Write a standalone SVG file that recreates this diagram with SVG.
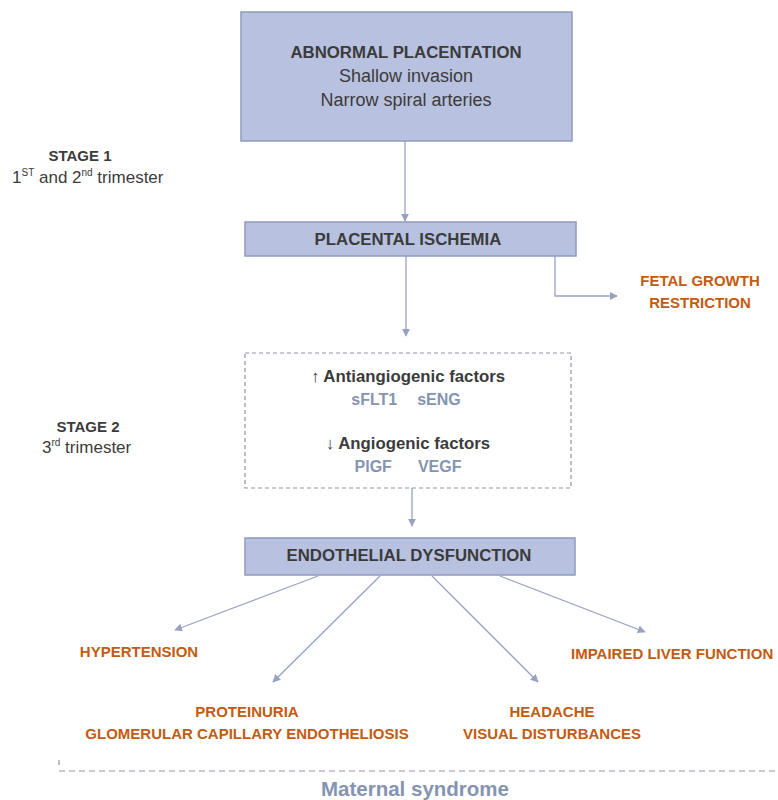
<svg xmlns="http://www.w3.org/2000/svg" width="778" height="800" viewBox="0 0 778 800">
<defs>
<style>
text{font-family:"Liberation Sans",Arial,sans-serif;}
.box{fill:#b8c1df;stroke:#8f9bbf;stroke-width:1.5;}
.dbox{fill:#fff;stroke:#8f95a8;stroke-width:1.2;stroke-dasharray:4 3;}
.t{fill:#3b3b3b;font-weight:bold;font-size:16.8px;text-anchor:middle;}
.n{fill:#3b3b3b;font-size:18px;text-anchor:middle;}
.o{fill:#c55a11;font-weight:bold;font-size:15px;text-anchor:middle;}
.g{fill:#8494b2;font-weight:bold;font-size:16px;text-anchor:middle;}
.s{fill:#3b3b3b;font-weight:bold;font-size:15px;text-anchor:middle;}
.sn{fill:#3b3b3b;font-size:17px;}
.c{fill:none;stroke:#99a1c1;stroke-width:1.3;}
</style>
<marker id="ar" viewBox="0 0 10 10" refX="9" refY="5" markerWidth="8" markerHeight="8" markerUnits="userSpaceOnUse" orient="auto">
<path d="M0,0 L10,5 L0,10 z" fill="#99a1c1"/>
</marker>
</defs>
<rect width="778" height="800" fill="#fff"/>
<g id="stage1">
<text class="s" x="80" y="161">STAGE 1</text>
<text class="sn" x="12" y="183">1<tspan font-size="10" dy="-7">ST</tspan><tspan dy="7"> and 2</tspan><tspan font-size="10" dy="-7">nd</tspan><tspan dy="7"> trimester</tspan></text>
</g>
<g id="stage2">
<text class="s" x="88" y="432">STAGE 2</text>
<text class="sn" x="42" y="453">3<tspan font-size="10" dy="-7">rd</tspan><tspan dy="7"> trimester</tspan></text>
</g>
<g id="connectors">
<path class="c" d="M405,141 V221" marker-end="url(#ar)"/>
<path class="c" d="M406,256 V336" marker-end="url(#ar)"/>
<path class="c" d="M555,256 V296 H617" marker-end="url(#ar)"/>
<path class="c" d="M412,488 V526" marker-end="url(#ar)"/>
<path class="c" d="M318,576 L175,630" marker-end="url(#ar)"/>
<path class="c" d="M380,576 L273,682" marker-end="url(#ar)"/>
<path class="c" d="M432,576 L538,682" marker-end="url(#ar)"/>
<path class="c" d="M500,576 L645,632" marker-end="url(#ar)"/>
</g>
<g id="abnormal">
<rect class="box" x="241" y="12" width="331" height="129"/>
<text class="t" x="406" y="58">ABNORMAL PLACENTATION</text>
<text class="n" x="406" y="82">Shallow invasion</text>
<text class="n" x="406" y="106">Narrow spiral arteries</text>
</g>
<g id="ischemia">
<rect class="box" x="245" y="222" width="331" height="34"/>
<text class="t" x="408" y="245">PLACENTAL ISCHEMIA</text>
</g>
<g id="fgr">
<text class="o" x="700" y="286">FETAL GROWTH</text>
<text class="o" x="700" y="308">RESTRICTION</text>
</g>
<g id="factors">
<rect class="dbox" x="245" y="353" width="326" height="135"/>
<text class="t" x="408" y="382">↑ Antiangiogenic factors</text>
<text class="g" x="406" y="405">sFLT1<tspan dx="20">sENG</tspan></text>
<text class="t" x="408" y="449">↓ Angiogenic factors</text>
<text class="g" x="408" y="472">PlGF<tspan dx="26">VEGF</tspan></text>
</g>
<g id="endothelial">
<rect class="box" x="245" y="538" width="330" height="37"/>
<text class="t" x="409" y="561">ENDOTHELIAL DYSFUNCTION</text>
</g>
<g id="hypertension"><text class="o" x="139" y="657">HYPERTENSION</text></g>
<g id="liver"><text class="o" x="571" y="659" style="text-anchor:start">IMPAIRED LIVER FUNCTION</text></g>
<g id="proteinuria">
<text class="o" x="247" y="717">PROTEINURIA</text>
<text class="o" x="247" y="739">GLOMERULAR CAPILLARY ENDOTHELIOSIS</text>
</g>
<g id="headache">
<text class="o" x="552" y="717">HEADACHE</text>
<text class="o" x="552" y="739">VISUAL DISTURBANCES</text>
</g>
<g id="maternal">
<path d="M59,760 V765 M59,771 H778" fill="none" stroke="#8f95a8" stroke-width="1.2" stroke-dasharray="6 4"/>
<text class="g" x="415" y="796" style="font-size:20.5px">Maternal syndrome</text>
</g>
</svg>
